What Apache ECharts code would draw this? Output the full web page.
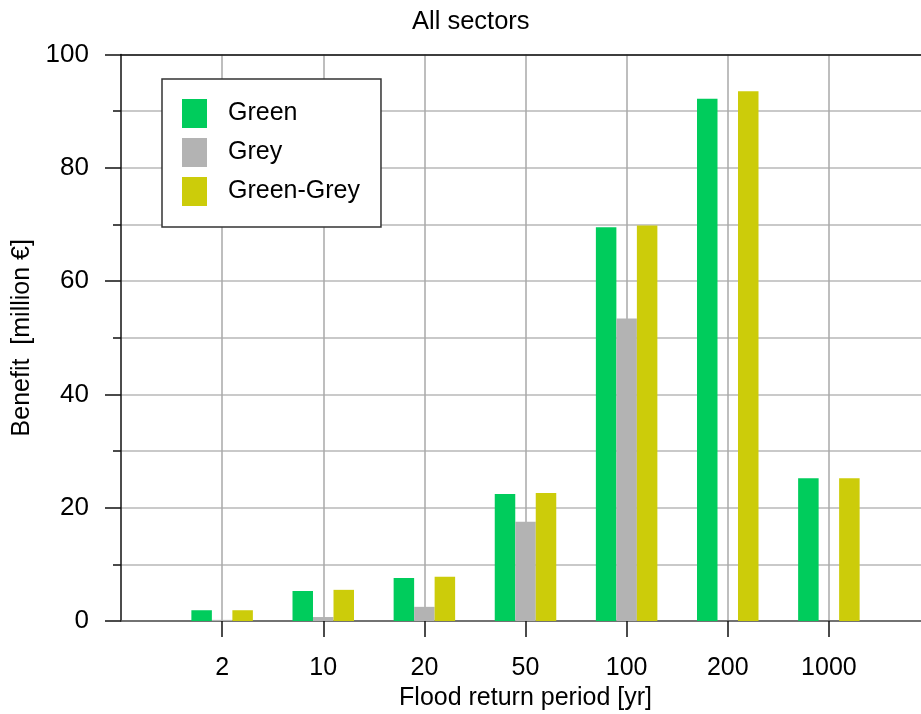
<!DOCTYPE html>
<html>
<head>
<meta charset="utf-8">
<title>All sectors</title>
<script src="https://cdn.jsdelivr.net/npm/echarts@6/dist/echarts.min.js"></script>
<style>
  html, body { margin: 0; padding: 0; background: #ffffff; }
  #chart { width: 921px; height: 714px; }
</style>
</head>
<body>
<div id="chart"></div>
<script>
// Flood return periods (years) shown on the x axis
const returnPeriods = ['2', '10', '20', '50', '100', '200', '1000'];

// Benefit per measure type, million €
const greenBenefit     = [1.9, 5.3, 7.6, 22.4, 69.5, 92.2, 25.2];
const greyBenefit      = [0.2, 0.7, 2.5, 17.5, 53.4, 0, 0];
const greenGreyBenefit = [1.9, 5.5, 7.8, 22.6, 69.8, 93.5, 25.2];

// y axis tick values
const yTicks = [0, 20, 40, 60, 80, 100];

// One empty slot on each side so the periods sit between the frame edges
const axisCategories = [''].concat(returnPeriods, ['']);
const pad = (arr) => [null].concat(arr, [null]);

const FONT = '"Liberation Sans", Arial, sans-serif';
const chart = echarts.init(document.getElementById('chart'), null, { renderer: 'canvas' });

const innerIndex = (i) => i > 0 && i < axisCategories.length - 1;

const barSeries = (name, values, color) => ({
  name: name,
  type: 'bar',
  data: pad(values),
  barWidth: 20.5,
  barGap: '0%',
  itemStyle: { color: color },
  emphasis: { disabled: true },
  animation: false
});

chart.setOption({
  animation: false,
  backgroundColor: '#ffffff',
  textStyle: { fontFamily: FONT },
  title: {
    text: 'All sectors',
    left: 407,
    top: 4,
    textStyle: { fontFamily: FONT, fontSize: 25.5, fontWeight: 'normal', color: '#000' }
  },
  legend: {
    orient: 'vertical',
    left: 162,
    top: 79,
    padding: [20, 21, 21, 20],
    itemWidth: 25,
    itemHeight: 29,
    itemGap: 10,
    icon: 'rect',
    backgroundColor: '#ffffff',
    borderColor: '#333333',
    borderWidth: 1.5,
    selectedMode: false,
    textStyle: { fontFamily: FONT, fontSize: 25, color: '#000', padding: [2, 0, 0, 16] },
    data: ['Green', 'Grey', 'Green-Grey']
  },
  grid: {
    left: 121,
    width: 809,
    top: 54.5,
    bottom: 93,
    containLabel: false,
    outerBoundsMode: 'none'
  },
  xAxis: [
    {
      type: 'category',
      data: axisCategories,
      boundaryGap: false,
      name: 'Flood return period [yr]',
      nameLocation: 'middle',
      nameGap: 64,
      nameTextStyle: { fontFamily: FONT, fontSize: 25, color: '#000' },
      axisLine: { show: true, lineStyle: { color: '#555555', width: 1.5 } },
      axisTick: {
        show: true,
        inside: false,
        length: 16,
        interval: (i) => innerIndex(i),
        lineStyle: { color: '#111111', width: 1.5 }
      },
      axisLabel: {
        interval: 0,
        margin: 35,
        fontFamily: FONT,
        fontSize: 25,
        color: '#000'
      },
      splitLine: {
        show: true,
        interval: (i) => innerIndex(i),
        lineStyle: { color: '#a8a8a8', width: 1.5 }
      }
    },
    {
      // top frame line
      type: 'category',
      data: axisCategories,
      boundaryGap: false,
      position: 'top',
      axisLine: { show: true, lineStyle: { color: '#111111', width: 1.5 } },
      axisTick: { show: false },
      axisLabel: { show: false },
      splitLine: { show: false }
    }
  ],
  yAxis: {
    type: 'value',
    min: yTicks[0],
    max: yTicks[yTicks.length - 1],
    interval: yTicks[1] - yTicks[0],
    name: 'Benefit  [million €]',
    nameLocation: 'middle',
    nameGap: 83,
    nameTextStyle: { fontFamily: FONT, fontSize: 25, color: '#000' },
    axisLine: { show: true, lineStyle: { color: '#111111', width: 1.5 } },
    axisTick: { show: true, inside: false, length: 16, lineStyle: { color: '#111111', width: 1.5 } },
    minorTick: { show: true, splitNumber: 2, length: 8, lineStyle: { color: '#111111', width: 1.5 } },
    axisLabel: { margin: 32, fontFamily: FONT, fontSize: 26, color: '#000' },
    splitLine: { show: true, lineStyle: { color: '#b8b8b8', width: 1.5 } },
    minorSplitLine: { show: true, lineStyle: { color: '#b8b8b8', width: 1.5 } }
  },
  series: [
    barSeries('Green', greenBenefit, '#00cc5c'),
    barSeries('Grey', greyBenefit, '#b3b3b3'),
    barSeries('Green-Grey', greenGreyBenefit, '#cccc0a')
  ]
});
</script>
</body>
</html>
